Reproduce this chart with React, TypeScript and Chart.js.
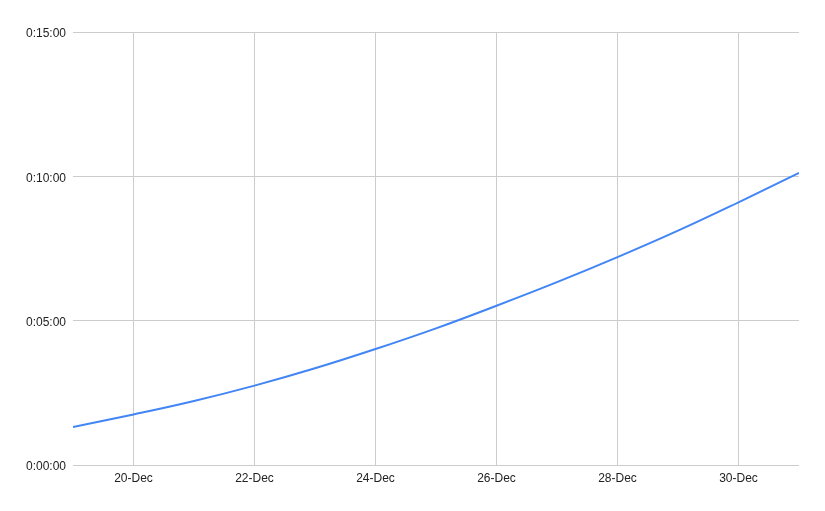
import React, { useEffect, useRef } from "react";
import { Chart, registerables } from "chart.js";

Chart.register(...registerables);

// Days of December (x values)
const days: number[] = [19, 20, 21, 22, 23, 24, 25, 26, 27, 28, 29, 30, 31];
// Duration in seconds per day
const durations: number[] = [79, 105, 133, 165, 201, 241, 284, 331, 380, 432, 487, 546, 607];
// X tick positions (days) and Y tick values (seconds)
const xTickDays: number[] = [20, 22, 24, 26, 28, 30];
const yTickSeconds: number[] = [0, 300, 600, 900];

const fmtDuration = (s: number): string => {
  const h = Math.floor(s / 3600);
  const m = Math.floor((s % 3600) / 60);
  const sec = Math.round(s % 60);
  return `${h}:${String(m).padStart(2, "0")}:${String(sec).padStart(2, "0")}`;
};

export default function App() {
  const ref = useRef<HTMLCanvasElement | null>(null);

  useEffect(() => {
    if (!ref.current) return;
    const font = { family: "'Liberation Sans', Arial, sans-serif", size: 12 };
    const chart = new Chart(ref.current, {
      type: "line",
      data: {
        datasets: [
          {
            data: days.map((d, i) => ({ x: d, y: durations[i] })),
            borderColor: "#4285F4",
            borderWidth: 2,
            pointRadius: 0,
            tension: 0.4,
            fill: false,
          },
        ],
      },
      options: {
        animation: false,
        responsive: false,
        maintainAspectRatio: false,
        layout: { padding: { left: 0, top: 32, right: 26, bottom: 0 } },
        plugins: { legend: { display: false }, tooltip: { enabled: false } },
        scales: {
          x: {
            type: "linear",
            min: 19,
            max: 31,
            afterBuildTicks: (axis: any) => {
              axis.ticks = xTickDays.map((v) => ({ value: v }));
            },
            afterFit: (axis: any) => {
              axis.height = 46;
            },
            grid: { color: "#cccccc", drawTicks: false, lineWidth: 1 },
            border: { display: false },
            ticks: {
              padding: 6,
              color: "#222222",
              font,
              maxRotation: 0,
              autoSkip: false,
              callback: (v: any) => `${v}-Dec`,
            },
          },
          y: {
            type: "linear",
            min: 0,
            max: 900,
            afterBuildTicks: (axis: any) => {
              axis.ticks = yTickSeconds.map((v) => ({ value: v }));
            },
            afterFit: (axis: any) => {
              axis.width = 73;
            },
            grid: { color: "#cccccc", drawTicks: false, lineWidth: 1 },
            border: { display: false },
            ticks: {
              padding: 7,
              labelOffset: 2,
              color: "#222222",
              font,
              callback: (v: any) => fmtDuration(Number(v)),
            },
          },
        },
      },
    } as any);
    return () => chart.destroy();
  }, []);

  return (
    <div style={{ position: "absolute", left: 0, top: 0, width: 825, height: 511, background: "#ffffff" }}>
      <canvas ref={ref} width={825} height={511} style={{ width: 825, height: 511, display: "block" }} />
    </div>
  );
}
